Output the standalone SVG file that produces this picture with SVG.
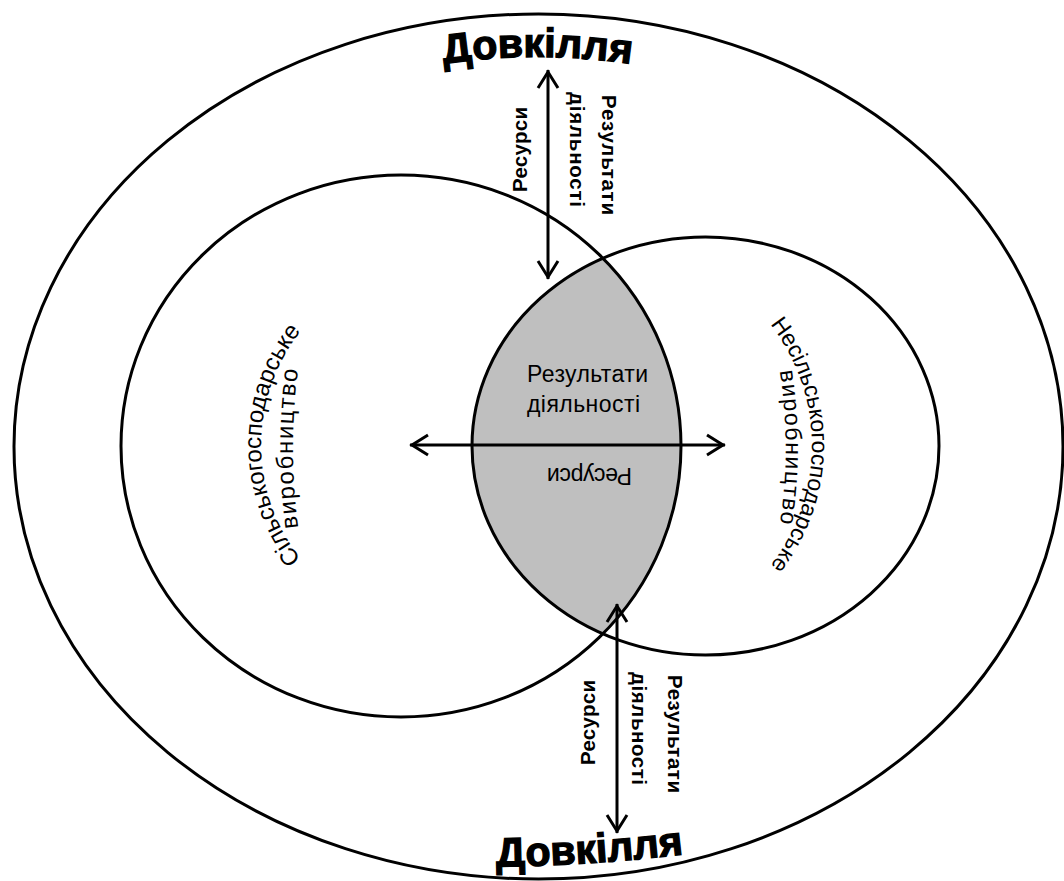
<svg xmlns="http://www.w3.org/2000/svg" width="1064" height="881" viewBox="0 0 1064 881">
  <style>
    .ln{fill:none;stroke:#000;stroke-width:3}
    .env{font-family:"Liberation Sans",Arial,sans-serif;font-weight:bold;font-size:41px;fill:#000;stroke:#000;stroke-width:1.3}
    .lbl{font-family:"Liberation Sans",Arial,sans-serif;font-weight:bold;font-size:20.5px;fill:#000}
    .mid{font-family:"Liberation Sans",Arial,sans-serif;font-size:23px;fill:#000}
    .arc{font-family:"Liberation Sans",Arial,sans-serif;font-size:24px;fill:#000}
    .arcR{font-family:"Liberation Sans",Arial,sans-serif;font-size:23px;fill:#000}
    .wide{letter-spacing:1.5px}
  </style>
  <defs>
    <marker id="head" markerUnits="userSpaceOnUse" markerWidth="30" markerHeight="30" refX="0" refY="0" viewBox="-20 -15 30 30" orient="auto-start-reverse" overflow="visible">
      <path d="M -18 -10 L -2 0 L -18 10" fill="none" stroke="#000" stroke-width="3"/>
    </marker>
    <clipPath id="clipAgri">
      <ellipse cx="401" cy="446" rx="280" ry="271"/>
    </clipPath>
    <!-- baselines for curved captions -->
    <path id="envTop" d="M 430 66 Q 537 48 645 66"/>
    <path id="envBottom" d="M 470 867 Q 590 867 710 851"/>
    <path id="agriOuter" d="M 412.2 625.2 A 183 183 0 0 1 412.2 264.8"/>
    <path id="agriInner" d="M 303 558 A 610 610 0 0 1 303 338"/>
    <path id="nonOuter" d="M 650 252 A 196 196 0 0 1 650 638"/>
    <path id="nonInner" d="M 775 345 A 500 500 0 0 1 775 551"/>
  </defs>

  <rect width="1064" height="881" fill="#fff"/>

  <!-- environment -->
  <g id="environment">
    <ellipse class="ln" cx="538.5" cy="446.5" rx="524.5" ry="432.5"/>
    <text class="env"><textPath href="#envTop" startOffset="50%" text-anchor="middle">Довкілля</textPath></text>
    <text class="env"><textPath href="#envBottom" startOffset="50%" text-anchor="middle">Довкілля</textPath></text>
  </g>

  <!-- overlap of the two production spheres -->
  <g id="overlap">
    <ellipse cx="705.5" cy="446" rx="233.5" ry="209" fill="#bfbfbf" clip-path="url(#clipAgri)"/>
    <text class="mid" x="527" y="382" textLength="121">Результати</text>
    <text class="mid" x="527" y="412" textLength="113">діяльності</text>
    <text class="mid" transform="translate(632,468) rotate(180)" textLength="85">Ресурси</text>
  </g>

  <!-- agricultural production -->
  <g id="agri">
    <ellipse class="ln" cx="401" cy="446" rx="280" ry="271"/>
    <text class="arc"><textPath href="#agriOuter" startOffset="50%" text-anchor="middle">Сільськогосподарське</textPath></text>
    <text class="arc wide"><textPath href="#agriInner" startOffset="50%" text-anchor="middle">виробництво</textPath></text>
  </g>

  <!-- non-agricultural production -->
  <g id="nonagri">
    <ellipse class="ln" cx="705.5" cy="446" rx="233.5" ry="209"/>
    <text class="arcR"><textPath href="#nonOuter" startOffset="50%" text-anchor="middle">Несільськогосподарське</textPath></text>
    <text class="arcR wide"><textPath href="#nonInner" startOffset="50%" text-anchor="middle">виробництво</textPath></text>
  </g>

  <!-- exchange arrows -->
  <g id="connectors">
    <line class="ln" x1="548" y1="70" x2="548" y2="279" marker-start="url(#head)" marker-end="url(#head)"/>
    <line class="ln" x1="617" y1="604" x2="617" y2="833" marker-start="url(#head)" marker-end="url(#head)"/>
    <line class="ln" x1="410" y1="445" x2="725" y2="445" marker-start="url(#head)" marker-end="url(#head)"/>
  </g>

  <!-- arrow captions -->
  <g id="labels">
    <text class="lbl" transform="translate(527,192) rotate(-90)" textLength="85">Ресурси</text>
    <text class="lbl" transform="translate(602,95) rotate(90)" textLength="120">Результати</text>
    <text class="lbl" transform="translate(570,92) rotate(90)" textLength="115">діяльності</text>
    <text class="lbl" transform="translate(595,765) rotate(-90)" textLength="85">Ресурси</text>
    <text class="lbl" transform="translate(668,675) rotate(90)" textLength="118">Результати</text>
    <text class="lbl" transform="translate(632,672) rotate(90)" textLength="113">діяльності</text>
  </g>
</svg>
